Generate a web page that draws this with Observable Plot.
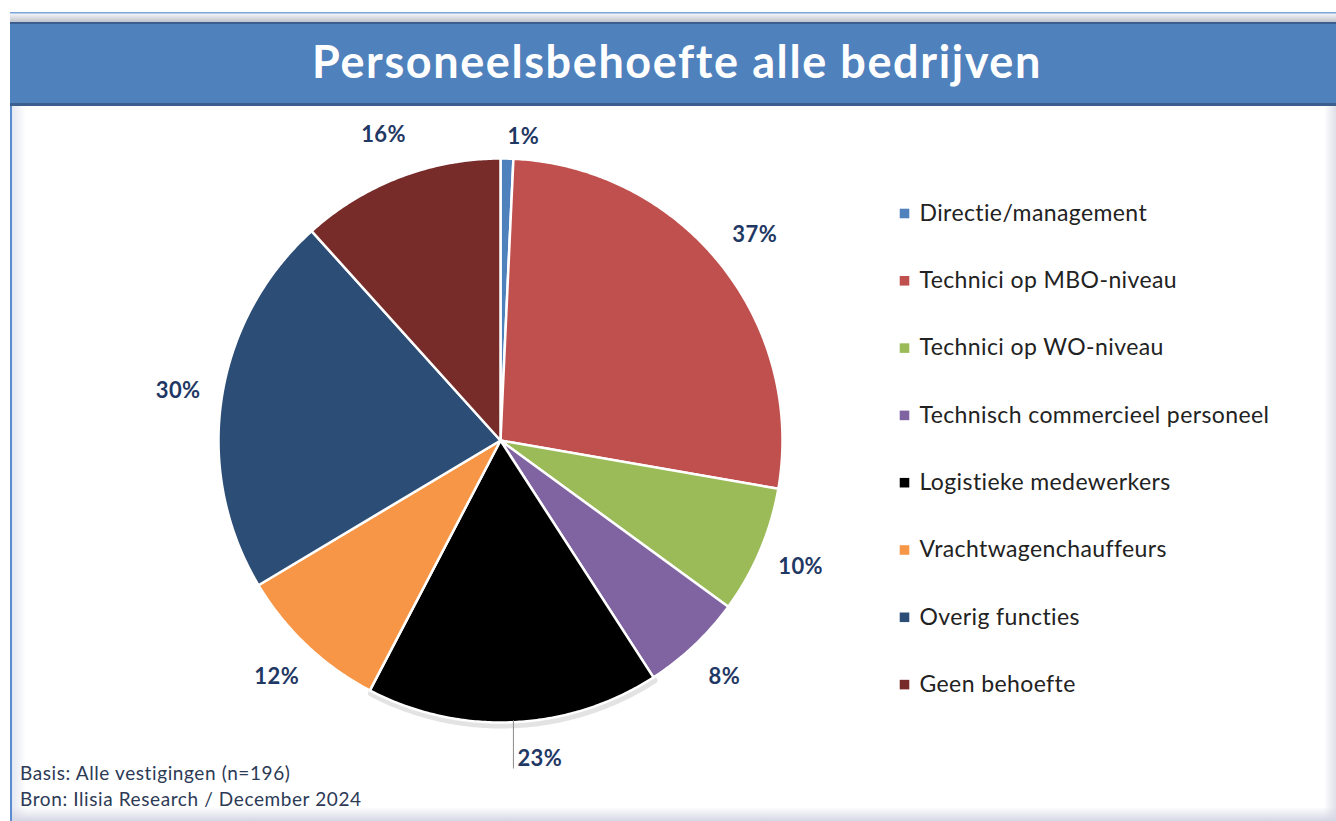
<!DOCTYPE html>
<html>
<head>
<meta charset="utf-8">
<script src="https://cdn.jsdelivr.net/npm/d3@7"></script>
<script src="https://cdn.jsdelivr.net/npm/@observablehq/plot@0.6"></script>
<style>
  html, body { margin: 0; padding: 0; background: #ffffff; }
  body { width: 1336px; height: 821px; position: relative; overflow: hidden; font-family: Lato, "Open Sans", sans-serif; }
  #frame { position: absolute; left: 10px; top: 12px; width: 1326px; height: 809px;
    background: linear-gradient(to right, #e4e8f0 0px, #ffffff 14px, #ffffff 1312px, #d9dbe6 1326px);
    border-left: 2px solid #5b8cd2; box-sizing: border-box; }
  #frame::after { content: ""; position: absolute; left: 0; right: 0; bottom: 0; height: 14px;
    background: linear-gradient(to bottom, rgba(255,255,255,0), #d6d7e5); }
  #topband { position: absolute; left: 10px; top: 12px; width: 1326px; height: 11px;
    background: linear-gradient(to bottom, #7aa6dc 0px, #7aa6dc 1px, #f2f3f6 2px, #b9bcc7 11px); }
  #titlebar { position: absolute; left: 10px; top: 22px; width: 1326px; height: 84px; box-sizing: border-box;
    background: #4f81bd; border-top: 2px solid #3a5f8f; border-bottom: 3px solid #3a5f8f;
    color: #ffffff; font-family: Lato, sans-serif; font-weight: 700; font-size: 45px; letter-spacing: 1.6px;
    display: flex; align-items: center; justify-content: center; padding-left: 8px; padding-bottom: 6px; }
  #chart { position: absolute; left: 0; top: 106px; }
  #chart svg text { letter-spacing: 0.4px; }
  #caption { position: absolute; left: 20px; top: 760px; font-family: Lato, sans-serif; font-size: 19px;
    letter-spacing: 0.6px; line-height: 26px; color: #2d3a56; }
</style>
</head>
<body>
<div id="frame"></div>
<div id="topband"></div>
<div id="titlebar">Personeelsbehoefte alle bedrijven</div>
<div id="chart"></div>
<div id="caption">Basis: Alle vestigingen (n=196)<br>Bron: Ilisia Research / December 2024</div>
<script>
// ---- data ----
const categories = [
  "Directie/management",
  "Technici op MBO-niveau",
  "Technici op WO-niveau",
  "Technisch commercieel personeel",
  "Logistieke medewerkers",
  "Vrachtwagenchauffeurs",
  "Overig functies",
  "Geen behoefte"
];
const percentages = [1, 37, 10, 8, 23, 12, 30, 16];
const colors = ["#4f81bd", "#c0504d", "#9bbb59", "#8064a2", "#000000", "#f79646", "#2c4d75", "#772c2a"];
const leaderCategory = "Logistieke medewerkers";

// ---- layout (pixels in SVG) ----
const W = 1336, H = 690;
const cx = 500, cy = 334, R = 282;
const legendX = 904, legendTop = 107, legendStep = 67.3;

const rows = categories.map((c, i) => ({category: c, value: percentages[i]}));
const arcs = d3.pie().sort(null).value(d => d.value)(rows);

const pt = (a, r) => [cx + r * Math.sin(a), cy - r * Math.cos(a)];

const slices = arcs.map(a => {
  const n = Math.max(2, Math.ceil((a.endAngle - a.startAngle) / (Math.PI / 360)));
  const ring = [[cx, cy]];
  for (let k = 0; k <= n; k++) ring.push(pt(a.startAngle + (a.endAngle - a.startAngle) * k / n, R));
  ring.push([cx, cy]);
  return {type: "Feature", properties: {category: a.data.category}, geometry: {type: "Polygon", coordinates: [ring]}};
});

const labels = arcs.map(a => {
  const mid = (a.startAngle + a.endAngle) / 2;
  const nearVertical = Math.abs(Math.sin(mid)) < 0.1;
  const leader = a.data.category === leaderCategory;
  let p;
  if (nearVertical) {
    p = Math.cos(mid) > 0 ? pt(mid, R + 22) : [pt(mid, R)[0] + 4, cy + R + 36];
  } else {
    p = pt(mid, R + 44);
    p[1] -= 1;
  }
  return {category: a.data.category, text: a.data.value + "%", x: p[0], y: p[1], start: nearVertical, leader,
    lx: pt(mid, R)[0], ly1: pt(mid, R)[1] - 2, ly2: cy + R + 46};
});

const legend = categories.map((c, i) => ({category: c, x: legendX, tx: legendX + 15, y: legendTop + i * legendStep}));

const domain = {type: "Polygon", coordinates: [[[0, 0], [W, 0], [W, H], [0, H], [0, 0]]]};

const chart = Plot.plot({
  width: W,
  height: H,
  margin: 0,
  projection: {type: "identity", domain},
  color: {domain: categories, range: colors},
  style: {fontFamily: "Lato, sans-serif", background: "transparent"},
  marks: [
    Plot.geo(slices.filter(d => d.properties.category === leaderCategory), {fill: "#9a9a9a", stroke: "#c8c8c8", strokeWidth: 6, dx: 1, dy: 3, opacity: 0.5}),
    Plot.geo(slices, {fill: d => d.properties.category, stroke: "#ffffff", strokeWidth: 2.5, strokeLinejoin: "round"}),
    Plot.link(labels.filter(d => d.leader), {x1: "lx", y1: "ly1", x2: "lx", y2: "ly2", stroke: "#8c8c8c", strokeWidth: 1}),
    Plot.text(labels.filter(d => !d.start), {x: "x", y: "y", text: "text", fontSize: 22, fontWeight: "bold", fill: "#1f3864", textAnchor: "middle"}),
    Plot.text(labels.filter(d => d.start), {x: "x", y: "y", text: "text", fontSize: 22, fontWeight: "bold", fill: "#1f3864", textAnchor: "start"}),
    Plot.dot(legend, {x: "x", y: "y", fill: "category", symbol: "square", r: 5.4, stroke: "none"}),
    Plot.text(legend, {x: "tx", y: "y", text: "category", fontSize: 23, fill: "#222222", textAnchor: "start"})
  ]
});
document.getElementById("chart").appendChild(chart);
</script>
</body>
</html>
